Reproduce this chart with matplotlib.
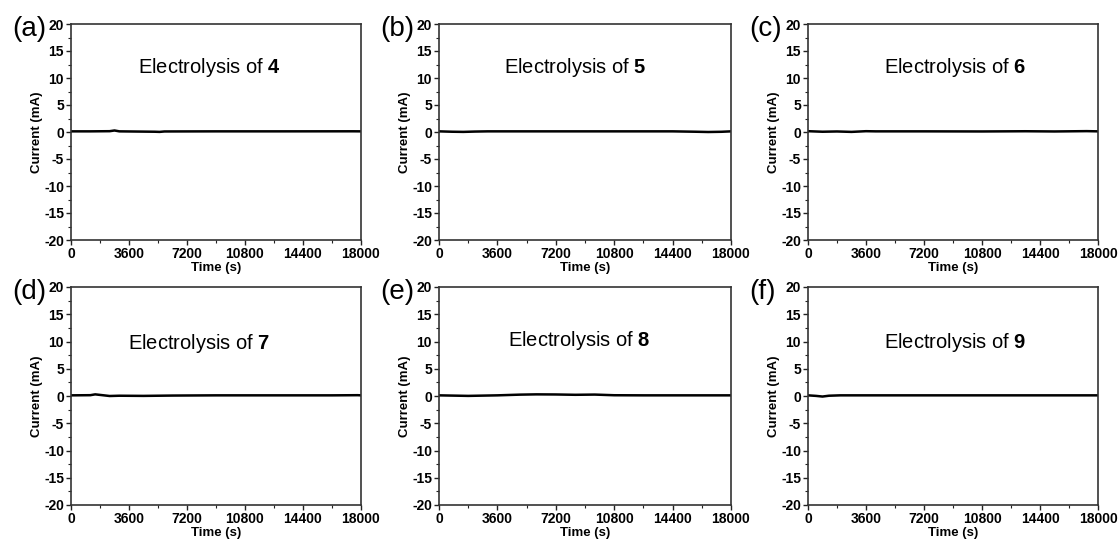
import matplotlib.pyplot as plt
from matplotlib.ticker import MultipleLocator

plt.rcParams['font.family'] = ['Liberation Sans', 'DejaVu Sans']
plt.rcParams['axes.unicode_minus'] = False
plt.rcParams['mathtext.fontset'] = 'custom'
plt.rcParams['mathtext.rm'] = 'Liberation Sans'
plt.rcParams['mathtext.bf'] = 'Liberation Sans:bold'

W, H = 1120, 543

panel_letters = ['(a)', '(b)', '(c)', '(d)', '(e)', '(f)']
compounds = ['4', '5', '6', '7', '8', '9']

# chronoamperometry traces, time (s) and current (mA)
time_a = [0, 1200, 2400, 2700, 3000, 5200, 5500, 5800, 9000, 13000, 17500, 18000]
curr_a = [0.12, 0.12, 0.15, 0.28, 0.12, 0.05, 0.02, 0.1, 0.12, 0.12, 0.13, 0.12]
time_b = [0, 800, 1500, 2200, 3000, 7200, 10800, 14400, 15800, 16600, 17400, 18000]
curr_b = [0.12, 0.05, 0.02, 0.08, 0.12, 0.12, 0.12, 0.12, 0.05, 0.0, 0.04, 0.12]
time_c = [0, 900, 1800, 2700, 3600, 4200, 7200, 10800, 13500, 15300, 17300, 18000]
curr_c = [0.15, 0.05, 0.1, 0.02, 0.15, 0.12, 0.12, 0.1, 0.14, 0.1, 0.16, 0.12]
time_d = [0, 1200, 1500, 2400, 3000, 4500, 6300, 9000, 12600, 16200, 17800, 18000]
curr_d = [0.12, 0.15, 0.3, 0.0, 0.05, 0.02, 0.08, 0.12, 0.12, 0.12, 0.15, 0.12]
time_e = [0, 1800, 3600, 5000, 6000, 7200, 8400, 9600, 10800, 12600, 15000, 18000]
curr_e = [0.12, 0.02, 0.12, 0.25, 0.3, 0.28, 0.22, 0.26, 0.14, 0.12, 0.12, 0.12]
time_f = [0, 500, 900, 1300, 2000, 3600, 7200, 10800, 14400, 18000]
curr_f = [0.12, 0.02, -0.1, 0.05, 0.12, 0.12, 0.12, 0.12, 0.12, 0.12]

times = [time_a, time_b, time_c, time_d, time_e, time_f]
currents = [curr_a, curr_b, curr_c, curr_d, curr_e, curr_f]

# axes boxes in pixels: left, right, top, bottom
lefts = [71, 439, 808]
rights = [361, 731, 1098]
tops = [24, 287]
bottoms = [240, 505]

text_x = [0.476, 0.466, 0.507, 0.44, 0.48, 0.506]
text_y = [0.80, 0.80, 0.80, 0.74, 0.755, 0.745]

fig = plt.figure(figsize=(W / 100, H / 100), dpi=100)

for i in range(6):
    r, c = divmod(i, 3)
    x0 = lefts[c] / W
    w = (rights[c] - lefts[c]) / W
    y0 = 1 - bottoms[r] / H
    h = (bottoms[r] - tops[r]) / H
    ax = fig.add_axes([x0, y0, w, h])
    ax.plot(times[i], currents[i], color='black', lw=1.8)
    ax.set_xlim(0, 18000)
    ax.set_ylim(-20, 20)
    ax.xaxis.set_major_locator(MultipleLocator(3600))
    ax.xaxis.set_minor_locator(MultipleLocator(1800))
    ax.yaxis.set_major_locator(MultipleLocator(5))
    ax.yaxis.set_minor_locator(MultipleLocator(2.5))
    ax.tick_params(which='major', direction='out', length=3.5, width=1,
                   labelsize=10, pad=1.5, colors='#222222')
    ax.tick_params(which='minor', direction='out', length=2, width=0.8,
                   colors='#222222')
    for lab in ax.get_xticklabels() + ax.get_yticklabels():
        lab.set_fontweight('bold')
        lab.set_color('black')
    for sp in ax.spines.values():
        sp.set_linewidth(1.2)
        sp.set_color('#333333')
    ax.set_xlabel('Time (s)', fontsize=9.5, fontweight='bold', labelpad=1)
    ax.set_ylabel('Current (mA)', fontsize=9.5, fontweight='bold', labelpad=1)
    ax.text(text_x[i], text_y[i], 'Electrolysis of $\\mathbf{' + compounds[i] + '}$',
            fontsize=14.5, ha='center', va='center', transform=ax.transAxes)
    fig.text((lefts[c] - 59) / W, 1 - (tops[r] + 5) / H, panel_letters[i],
             fontsize=20, ha='left', va='center')

fig.savefig('out.png', dpi=100, facecolor='white')
